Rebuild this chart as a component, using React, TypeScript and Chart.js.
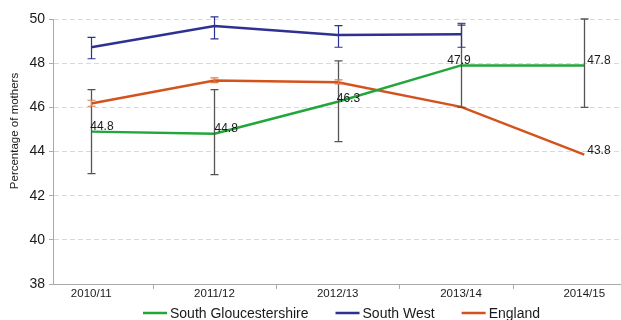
import { useEffect, useRef } from "react";
import { Chart, registerables } from "chart.js";

Chart.register(...registerables);

const categories = ["2010/11", "2011/12", "2012/13", "2013/14", "2014/15"];
const yTicks = [38, 40, 42, 44, 46, 48, 50];

const southGlos = [44.9, 44.8, 46.25, 47.9, 47.9];
const southGlosLabels = ["44.8", "44.8", "46.3", "47.9", "47.8"];
const southGlosLow = [43.0, 42.95, 44.45, 46.0, 46.0];
const southGlosHigh = [46.8, 46.8, 48.1, 49.8, 50.0];

const southWest = [48.72, 49.68, 49.28, 49.31, null];
const southWestLow = [48.2, 49.1, 48.72, 48.72, null];
const southWestHigh = [49.17, 50.1, 49.7, 49.72, null];

const england = [46.17, 47.21, 47.14, 46.02, 43.86];
const englandLabels = [null, null, null, null, "43.8"];
const englandLow = [46.05, 47.12, 47.06, null, null];
const englandHigh = [46.32, 47.33, 47.24, null, null];

const xTickMarks = [0.5, 1.5, 2.5, 3.42];

const FONT = '"Liberation Sans", Arial, Helvetica, sans-serif';
const GREEN = "#22a63a";
const BLUE = "#2e3192";
const ORANGE = "#d4531c";

type LabelStyle = { align: CanvasTextAlign; dx: number; dy: number };
const sgLabelStyle: LabelStyle[] = [
  { align: "left", dx: -1, dy: -5 },
  { align: "left", dx: 0, dy: -5 },
  { align: "left", dx: -1, dy: -3 },
  { align: "center", dx: -2, dy: -5 },
  { align: "left", dx: 3, dy: -5 },
];
const engLabelStyle: LabelStyle[] = [
  { align: "left", dx: 3, dy: -4 },
  { align: "left", dx: 3, dy: -4 },
  { align: "left", dx: 3, dy: -4 },
  { align: "left", dx: 3, dy: -4 },
  { align: "left", dx: 3, dy: -4 },
];

const toPoints = (vals: (number | null)[]) =>
  vals.map((v, i) => ({ x: i, y: v as number }));

export default function App() {
  const ref = useRef<HTMLCanvasElement | null>(null);

  useEffect(() => {
    if (!ref.current) return;

    const errorSets = [
      { low: southGlosLow, high: southGlosHigh, color: "#555555", width: 1.3 },
      { low: southWestLow, high: southWestHigh, color: BLUE, width: 1.2 },
      { low: englandLow, high: englandHigh, color: "#e07a4a", width: 1.2 },
    ];

    const extras = {
      id: "extras",
      afterDraw(chart: any) {
        const ctx = chart.ctx as CanvasRenderingContext2D;
        const xs = chart.scales.x;
        const ys = chart.scales.y;
        const area = chart.chartArea;
        ctx.save();

        // x-axis tick marks between categories
        ctx.strokeStyle = "#aaaaaa";
        ctx.lineWidth = 1;
        xTickMarks.forEach((t) => {
          const px = Math.round(xs.getPixelForValue(t)) + 0.5;
          ctx.beginPath();
          ctx.moveTo(px, area.bottom);
          ctx.lineTo(px, area.bottom + 5);
          ctx.stroke();
        });

        // error bars
        errorSets.forEach((s) => {
          ctx.strokeStyle = s.color;
          ctx.lineWidth = s.width;
          s.low.forEach((lo, i) => {
            const hi = s.high[i];
            if (lo == null || hi == null) return;
            const px = Math.round(xs.getPixelForValue(i)) + 0.5;
            const y1 = ys.getPixelForValue(lo);
            const y2 = ys.getPixelForValue(hi);
            ctx.beginPath();
            ctx.moveTo(px, y1);
            ctx.lineTo(px, y2);
            ctx.moveTo(px - 4, y1);
            ctx.lineTo(px + 4, y1);
            ctx.moveTo(px - 4, y2);
            ctx.lineTo(px + 4, y2);
            ctx.stroke();
          });
        });

        // data labels
        ctx.font = `12px ${FONT}`;
        ctx.fillStyle = "#1a1a1a";
        ctx.textBaseline = "middle";
        const drawLabels = (
          vals: (number | null)[],
          labels: (string | null)[],
          styles: LabelStyle[]
        ) => {
          labels.forEach((lab, i) => {
            const v = vals[i];
            if (lab == null || v == null) return;
            const st = styles[i];
            ctx.textAlign = st.align;
            ctx.fillText(
              lab,
              xs.getPixelForValue(i) + st.dx,
              ys.getPixelForValue(v) + st.dy
            );
          });
        };
        drawLabels(southGlos, southGlosLabels, sgLabelStyle);
        drawLabels(england, englandLabels, engLabelStyle);

        // y-axis title
        ctx.save();
        ctx.translate(15, 131);
        ctx.rotate(-Math.PI / 2);
        ctx.font = `11.5px ${FONT}`;
        ctx.textAlign = "center";
        ctx.textBaseline = "middle";
        ctx.fillStyle = "#1a1a1a";
        ctx.fillText("Percentage of mothers", 0, 0);
        ctx.restore();

        // legend
        ctx.font = `14px ${FONT}`;
        ctx.textBaseline = "middle";
        ctx.textAlign = "left";
        const lineLen = 24;
        const gap = 3;
        const spacing = 27;
        const items = chart.data.datasets.map((d: any) => ({
          text: d.label as string,
          color: d.borderColor as string,
          w: lineLen + gap + ctx.measureText(d.label).width,
        }));
        const total =
          items.reduce((a: number, it: any) => a + it.w, 0) +
          spacing * (items.length - 1);
        let cx = 341.5 - total / 2;
        const cy = 313;
        items.forEach((it: any) => {
          ctx.strokeStyle = it.color;
          ctx.lineWidth = 2.5;
          ctx.beginPath();
          ctx.moveTo(cx, cy);
          ctx.lineTo(cx + lineLen, cy);
          ctx.stroke();
          ctx.fillStyle = "#1a1a1a";
          ctx.fillText(it.text, cx + lineLen + gap, cy + 1);
          cx += it.w + spacing;
        });

        ctx.restore();
      },
    };

    const chart = new Chart(ref.current, {
      type: "line",
      data: {
        datasets: [
          {
            label: "South Gloucestershire",
            data: toPoints(southGlos),
            borderColor: GREEN,
            backgroundColor: GREEN,
            borderWidth: 2.5,
            pointRadius: 0,
            tension: 0,
          },
          {
            label: "South West",
            data: toPoints(southWest),
            borderColor: BLUE,
            backgroundColor: BLUE,
            borderWidth: 2.5,
            pointRadius: 0,
            tension: 0,
          },
          {
            label: "England",
            data: toPoints(england),
            borderColor: ORANGE,
            backgroundColor: ORANGE,
            borderWidth: 2.5,
            pointRadius: 0,
            tension: 0,
          },
        ],
      },
      options: {
        responsive: false,
        animation: false,
        devicePixelRatio: 1,
        layout: { padding: { top: 19, right: 1, bottom: 0, left: 0 } },
        plugins: {
          legend: { display: false },
          tooltip: { enabled: false },
        },
        scales: {
          x: {
            type: "linear",
            min: -0.31,
            max: 4.29,
            afterBuildTicks: (scale: any) => {
              scale.ticks = categories.map((_, i) => ({ value: i }));
            },
            afterFit: (scale: any) => {
              scale.height = 36;
            },
            grid: { display: false, drawTicks: false },
            border: { display: true, color: "#aaaaaa", width: 1 },
            ticks: {
              padding: 3,
              autoSkip: false,
              maxRotation: 0,
              color: "#1a1a1a",
              font: { size: 11.5, family: FONT },
              callback: (v: any) => categories[v as number] ?? "",
            },
          },
          y: {
            min: 38,
            max: 50,
            afterBuildTicks: (scale: any) => {
              scale.ticks = yTicks.map((v) => ({ value: v }));
            },
            afterFit: (scale: any) => {
              scale.width = 53;
            },
            grid: {
              color: "#d9d9d9",
              tickColor: "#aaaaaa",
              tickLength: 4,
              drawTicks: true,
            },
            border: { display: true, color: "#aaaaaa", width: 1, dash: [5, 3] },
            ticks: {
              padding: 4,
              color: "#1a1a1a",
              font: { size: 14, family: FONT },
            },
          },
        },
      },
      plugins: [extras],
    } as any);

    return () => chart.destroy();
  }, []);

  return (
    <div style={{ position: "fixed", left: 0, top: 0, width: 621, height: 320, background: "#fff" }}>
      <canvas ref={ref} width={621} height={320} />
    </div>
  );
}
